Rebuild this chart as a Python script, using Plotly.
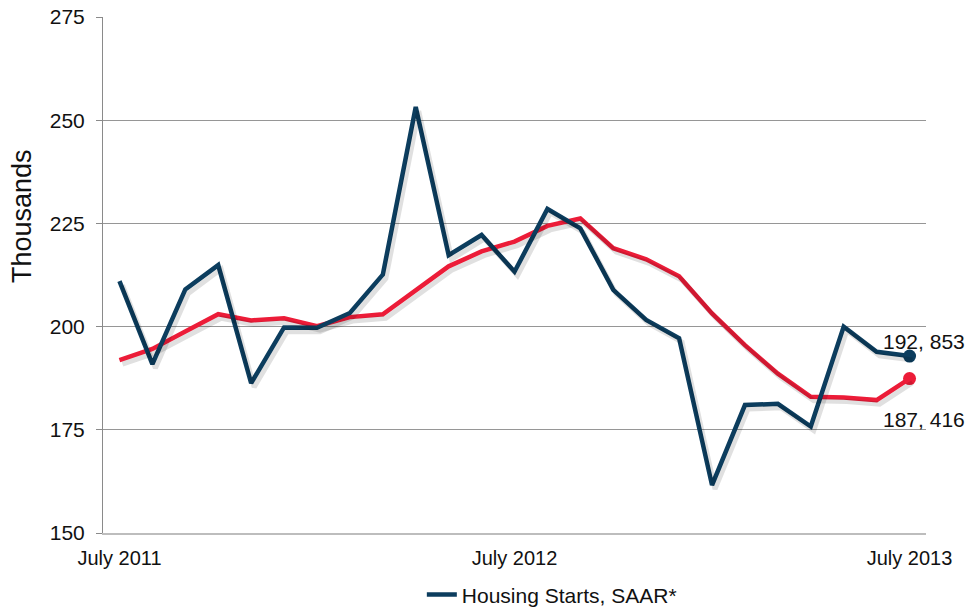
import plotly.graph_objects as go

months = ["2011-07","2011-08","2011-09","2011-10","2011-11","2011-12",
          "2012-01","2012-02","2012-03","2012-04","2012-05","2012-06",
          "2012-07","2012-08","2012-09","2012-10","2012-11","2012-12",
          "2013-01","2013-02","2013-03","2013-04","2013-05","2013-06","2013-07"]
housing_starts = [211.0, 190.9, 209.0, 214.9, 186.3, 199.8, 199.7, 203.3, 212.6, 253.2,
                  217.3, 222.2, 213.3, 228.5, 223.8, 208.9, 201.6, 197.2, 161.6, 181.0,
                  181.3, 175.8, 200.0, 193.9, 192.853]
moving_avg = [191.9, 194.6, 198.8, 203.0, 201.5, 202.0, 200.1, 202.3, 203.0, 208.9,
              214.6, 218.2, 220.6, 224.4, 226.2, 219.0, 216.3, 212.2, 203.2, 195.5,
              188.6, 183.0, 182.8, 182.2, 187.416]
tick_vals = ["2011-07", "2012-07", "2013-07"]
tick_text = ["July 2011", "July 2012", "July 2013"]
last_labels = ["192, 853", "187, 416"]
y_title = "Thousands"

NAVY = "#0c3d5e"
RED = "#ec1c38"
FONT = "Liberation Sans, Arial, sans-serif"

W, H = 972, 614
ml, mr, mt, mb = 103, 43, 17, 77
pw, ph = W - ml - mr, H - mt - mb
dx, dy = 3, 4

fig = go.Figure()
shadow = "rgba(0,0,0,0.12)"
for ys in (moving_avg, housing_starts):
    fig.add_trace(go.Scatter(x=months, y=ys, mode="lines", xaxis="x2", yaxis="y2",
                             line=dict(color=shadow, width=5), showlegend=False,
                             hoverinfo="skip"))

fig.add_trace(go.Scatter(x=months, y=moving_avg, mode="lines",
                         line=dict(color=RED, width=4.5), showlegend=False))
fig.add_trace(go.Scatter(x=months, y=housing_starts, mode="lines",
                         line=dict(color=NAVY, width=4.5),
                         name="Housing Starts, SAAR*"))
fig.add_trace(go.Scatter(x=[months[-1]], y=[moving_avg[-1]], mode="markers",
                         marker=dict(color=RED, size=13), showlegend=False))
fig.add_trace(go.Scatter(x=[months[-1]], y=[housing_starts[-1]], mode="markers",
                         marker=dict(color=NAVY, size=13), showlegend=False))

fig.add_annotation(x=months[-1], y=housing_starts[-1], text=last_labels[0],
                   showarrow=False, xshift=14, yshift=15,
                   font=dict(family=FONT, size=21, color="#111"))
fig.add_annotation(x=months[-1], y=moving_avg[-1], text=last_labels[1],
                   showarrow=False, xshift=14, yshift=-41,
                   font=dict(family=FONT, size=21, color="#111"))
fig.add_annotation(xref="paper", yref="paper", x=(22 - ml) / pw, y=(H - mb - 216) / ph,
                   text=y_title, textangle=-90, showarrow=False,
                   xanchor="center", yanchor="middle",
                   font=dict(family=FONT, size=27, color="#111"))

fig.update_layout(
    width=W, height=H,
    margin=dict(l=ml, r=mr, t=mt, b=mb, autoexpand=False),
    paper_bgcolor="white", plot_bgcolor="rgba(0,0,0,0)",
    font=dict(family=FONT, size=21, color="#111"),
    xaxis=dict(type="category", domain=[0, (pw - dx) / pw], range=[-0.5, 24.5],
               tickmode="array", tickvals=tick_vals, ticktext=tick_text,
               showgrid=False, showline=True, linecolor="#bdbdbd", linewidth=1.5,
               ticks="", zeroline=False, tickfont=dict(size=20),
               automargin=False, ticklabelstandoff=6),
    yaxis=dict(domain=[dy / ph, 1], range=[150, 275], tickvals=[150, 175, 200, 225, 250, 275],
               showgrid=True, gridcolor="#969696", gridwidth=1,
               showline=True, linecolor="#8a8a8a", linewidth=1,
               ticks="outside", ticklen=6, tickcolor="#8a8a8a",
               zeroline=False, tickfont=dict(size=21), automargin=False,
               ticklabelstandoff=7),
    xaxis2=dict(type="category", domain=[dx / pw, 1], range=[-0.5, 24.5],
                visible=False, anchor="y2"),
    yaxis2=dict(domain=[0, (ph - dy) / ph], range=[150, 275], visible=False, anchor="x2"),
    legend=dict(orientation="h", x=0.386, xanchor="left", yref="container",
                y=0.031, yanchor="middle",
                font=dict(size=21), bgcolor="rgba(0,0,0,0)"),
    showlegend=True,
)

fig.write_html("out.html", config={"displayModeBar": False},
               post_script="document.body.style.margin='0';document.body.style.overflow='hidden';")
